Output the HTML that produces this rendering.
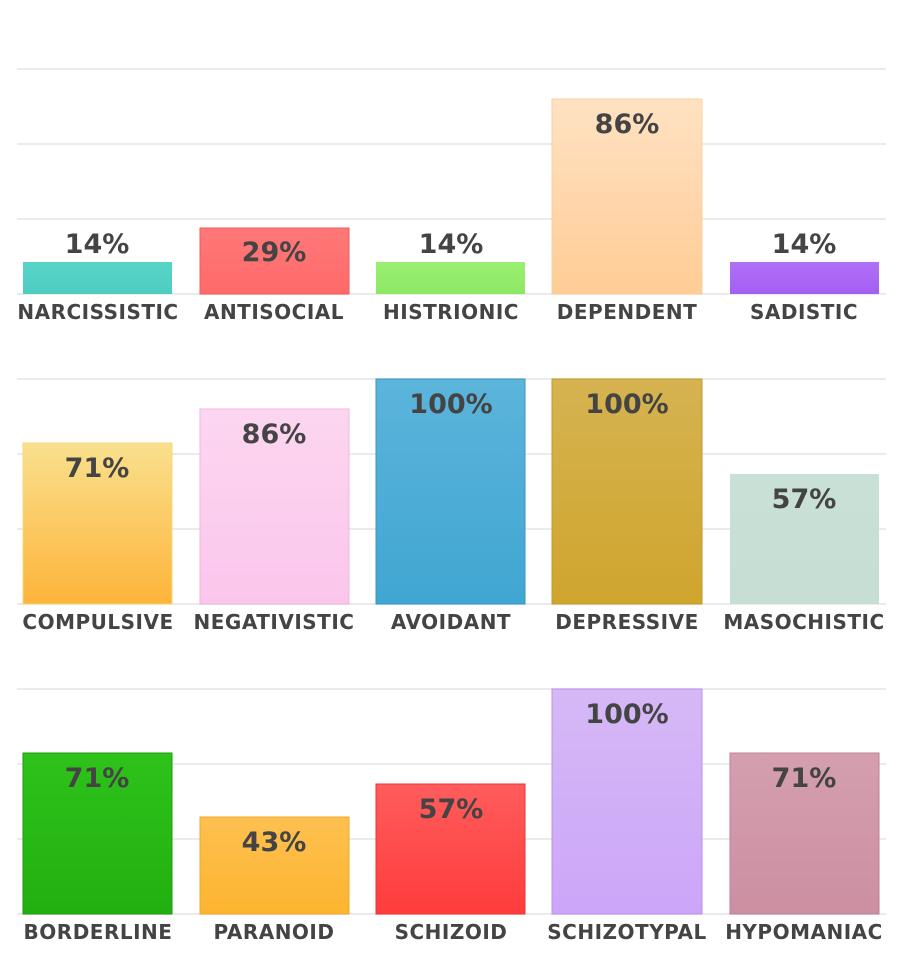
<!DOCTYPE html>
<html><head><style>body{margin:0;background:#fff}svg{display:block}text{font-family:"DejaVu Sans","Liberation Sans",sans-serif;font-weight:bold;fill:#444}</style></head>
<body>
<svg width="900" height="977" xmlns="http://www.w3.org/2000/svg">
<defs>
<linearGradient id="g0" x1="0" y1="0" x2="0" y2="1"><stop offset="0" stop-color="#56d4c8"/><stop offset="1" stop-color="#4ecdc0"/></linearGradient>
<linearGradient id="g1" x1="0" y1="0" x2="0" y2="1"><stop offset="0" stop-color="#ff7878"/><stop offset="1" stop-color="#ff6a6a"/></linearGradient>
<linearGradient id="g2" x1="0" y1="0" x2="0" y2="1"><stop offset="0" stop-color="#9af070"/><stop offset="1" stop-color="#8de865"/></linearGradient>
<linearGradient id="g3" x1="0" y1="0" x2="0" y2="1"><stop offset="0" stop-color="#ffe2c2"/><stop offset="1" stop-color="#ffcc96"/></linearGradient>
<linearGradient id="g4" x1="0" y1="0" x2="0" y2="1"><stop offset="0" stop-color="#b070f6"/><stop offset="1" stop-color="#a45ff2"/></linearGradient>
<linearGradient id="h0" x1="0" y1="0" x2="0" y2="1"><stop offset="0" stop-color="#f9e08e"/><stop offset="1" stop-color="#fdb43a"/></linearGradient>
<linearGradient id="h1" x1="0" y1="0" x2="0" y2="1"><stop offset="0" stop-color="#fcd6f0"/><stop offset="1" stop-color="#fbc6ec"/></linearGradient>
<linearGradient id="h2" x1="0" y1="0" x2="0" y2="1"><stop offset="0" stop-color="#5cb4da"/><stop offset="1" stop-color="#40a6d2"/></linearGradient>
<linearGradient id="h3" x1="0" y1="0" x2="0" y2="1"><stop offset="0" stop-color="#d5b350"/><stop offset="1" stop-color="#d0a52e"/></linearGradient>
<linearGradient id="h4" x1="0" y1="0" x2="0" y2="1"><stop offset="0" stop-color="#c8e0d6"/><stop offset="1" stop-color="#c6ded4"/></linearGradient>
<linearGradient id="k0" x1="0" y1="0" x2="0" y2="1"><stop offset="0" stop-color="#2ec21a"/><stop offset="1" stop-color="#22b010"/></linearGradient>
<linearGradient id="k1" x1="0" y1="0" x2="0" y2="1"><stop offset="0" stop-color="#fdc050"/><stop offset="1" stop-color="#fdb430"/></linearGradient>
<linearGradient id="k2" x1="0" y1="0" x2="0" y2="1"><stop offset="0" stop-color="#ff5c5c"/><stop offset="1" stop-color="#ff3c3c"/></linearGradient>
<linearGradient id="k3" x1="0" y1="0" x2="0" y2="1"><stop offset="0" stop-color="#d6b8f6"/><stop offset="1" stop-color="#cca6f8"/></linearGradient>
<linearGradient id="k4" x1="0" y1="0" x2="0" y2="1"><stop offset="0" stop-color="#d49fae"/><stop offset="1" stop-color="#cc8fa2"/></linearGradient>
</defs>
<g stroke="#ebebeb" stroke-width="2">
<line x1="17" y1="69" x2="886" y2="69"/><line x1="17" y1="144" x2="886" y2="144"/><line x1="17" y1="219" x2="886" y2="219"/><line x1="17" y1="294" x2="886" y2="294"/>
<line x1="17" y1="379" x2="886" y2="379"/><line x1="17" y1="454" x2="886" y2="454"/><line x1="17" y1="529" x2="886" y2="529"/><line x1="17" y1="604" x2="886" y2="604"/>
<line x1="17" y1="689" x2="886" y2="689"/><line x1="17" y1="764" x2="886" y2="764"/><line x1="17" y1="839" x2="886" y2="839"/><line x1="17" y1="914" x2="886" y2="914"/>
</g>
<!-- panel 1 -->
<rect x="23" y="262" width="149" height="32" fill="url(#g0)"/>
<rect x="200" y="228" width="149" height="66" fill="url(#g1)" stroke="#f05a5a"/>
<rect x="376" y="262" width="149" height="32" fill="url(#g2)"/>
<rect x="552" y="99" width="150" height="195" fill="url(#g3)" stroke="#f8cfa0"/>
<rect x="730" y="262" width="149" height="32" fill="url(#g4)"/>
<g font-size="27" text-anchor="middle">
<text x="97" y="253">14%</text><text x="274" y="261">29%</text><text x="451" y="253">14%</text><text x="627" y="133">86%</text><text x="804" y="253">14%</text>
</g>
<!-- panel 2 -->
<rect x="23" y="443" width="149" height="161" fill="url(#h0)" stroke="#f5d878"/>
<rect x="200" y="409" width="149" height="195" fill="url(#h1)" stroke="#f2b6e0"/>
<rect x="376" y="379" width="149" height="225" fill="url(#h2)" stroke="#3a94c0"/>
<rect x="552" y="379" width="150" height="225" fill="url(#h3)" stroke="#c09a28"/>
<rect x="730" y="474" width="149" height="130" fill="url(#h4)"/>
<g font-size="27" text-anchor="middle">
<text x="97" y="477">71%</text><text x="274" y="443">86%</text><text x="451" y="413">100%</text><text x="627" y="413">100%</text><text x="804" y="508">57%</text>
</g>
<!-- panel 3 -->
<rect x="23" y="753" width="149" height="161" fill="url(#k0)" stroke="#1e9a10"/>
<rect x="200" y="817" width="149" height="97" fill="url(#k1)" stroke="#f0a828"/>
<rect x="376" y="784" width="149" height="130" fill="url(#k2)" stroke="#f03030"/>
<rect x="552" y="689" width="150" height="225" fill="url(#k3)" stroke="#bb90ee"/>
<rect x="730" y="753" width="149" height="161" fill="url(#k4)" stroke="#bb8094"/>
<g font-size="27" text-anchor="middle">
<text x="97" y="787">71%</text><text x="274" y="851">43%</text><text x="451" y="818">57%</text><text x="627" y="723">100%</text><text x="804" y="787">71%</text>
</g>
<g font-size="20" text-anchor="middle" style="letter-spacing:0.5px">
<text x="98" y="319">NARCISSISTIC</text><text x="274" y="319">ANTISOCIAL</text><text x="451" y="319">HISTRIONIC</text><text x="627" y="319">DEPENDENT</text><text x="804" y="319">SADISTIC</text>
<text x="98" y="629">COMPULSIVE</text><text x="274" y="629">NEGATIVISTIC</text><text x="451" y="629">AVOIDANT</text><text x="627" y="629">DEPRESSIVE</text><text x="804" y="629">MASOCHISTIC</text>
<text x="98" y="939">BORDERLINE</text><text x="274" y="939">PARANOID</text><text x="451" y="939">SCHIZOID</text><text x="627" y="939">SCHIZOTYPAL</text><text x="804" y="939">HYPOMANIAC</text>
</g>
</svg>
</body></html>
